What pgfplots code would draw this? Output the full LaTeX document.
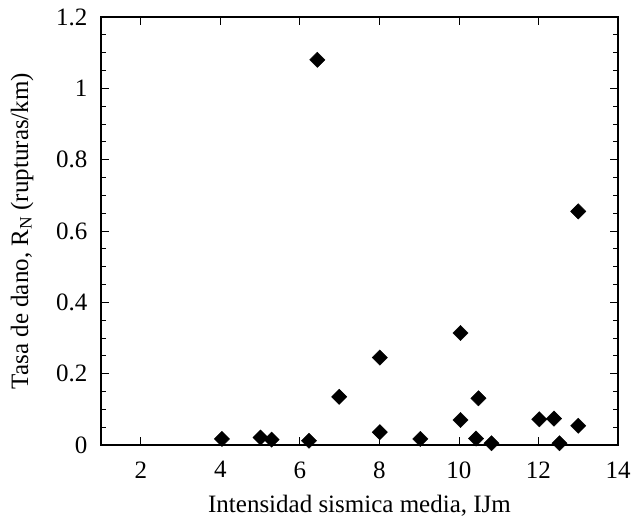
\documentclass[border=0pt]{standalone}
\usepackage{fontspec}
\setmainfont{Liberation Serif}
\usepackage{pgfplots}
\pgfplotsset{compat=1.18}
\begin{document}
\fontsize{25}{29}\selectfont
\begin{tikzpicture}
\begin{axis}[
  name=main,
  anchor=south west, at={(0pt,0pt)},
  scale only axis,
  width=517pt, height=428pt,
  xmin=1, xmax=14, ymin=0, ymax=1.2,
  xtick={2,4,6,8,10,12,14},
  ytick={0,0.2,0.4,0.6,0.8,1,1.2},
  yticklabels={0,0.2,0.4,0.6,0.8,1,1.2},
  minor y tick num=3,
  tick align=inside,
  major tick length=8pt,
  minor tick length=5pt,
  tick style={black, line width=0.8pt},
  axis line style={line width=1.2pt},
  every tick label/.append style={font=\fontsize{25}{29}\selectfont},
  xticklabel style={yshift=-8pt},
  yticklabel style={xshift=-5pt},
  /pgf/number format/assume math mode=true,
  xlabel={Intensidad sismica media, IJm},
  ylabel={Tasa de dano, R\textsubscript{N} (rupturas/km)},
  label style={font=\fontsize{25}{29}\selectfont},
  xlabel style={at={(axis description cs:0.5,0)}, anchor=base, yshift=-67pt},
  ylabel style={at={(axis description cs:0,0.5)}, anchor=center, yshift=79pt},
]
\addplot[only marks, mark=square*, mark size=5.4pt, mark options={rotate=45, fill=black, draw=black}] coordinates {
(4.04,0.017) (5.01,0.021) (5.29,0.015) (6.23,0.012) (6.44,1.08)
(6.99,0.135) (8.01,0.245) (8.01,0.036) (9.03,0.017) (10.04,0.314)
(10.04,0.070) (10.43,0.018) (10.49,0.131) (10.82,0.005) (12.02,0.072)
(12.39,0.074) (12.53,0.005) (13.0,0.655) (13.0,0.054)
};
\end{axis}
\pgfresetboundingbox
\path[use as bounding box] (-101pt,-76pt) rectangle (530pt,445pt);
\end{tikzpicture}
\end{document}
